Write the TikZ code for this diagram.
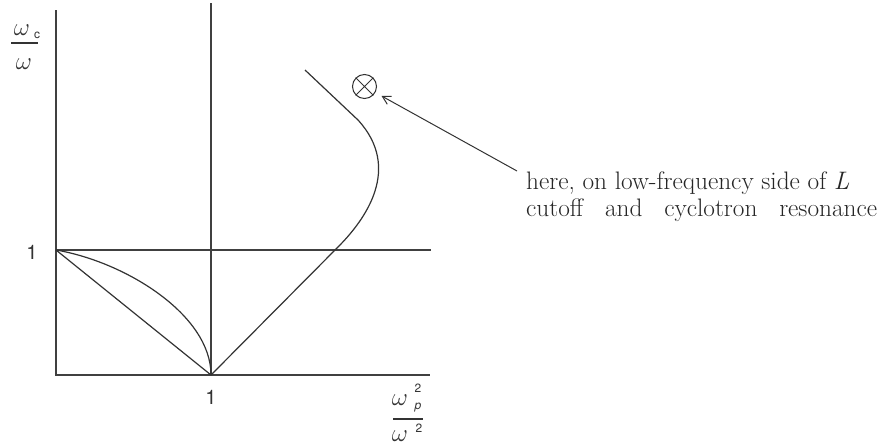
\documentclass[tikz,border=0pt]{standalone}
\usepackage{fontspec}
\newfontfamily\helv{TeX Gyre Heros}
\usetikzlibrary{arrows.meta}
\begin{document}
\begin{tikzpicture}[x=1pt,y=-1pt,
  ax/.style={line width=1.4pt, draw=black!75},
  cur/.style={line width=1.2pt, draw=black!80},
  lbl/.style={font=\helv\fontsize{20}{20}\selectfont, inner sep=0, text=black!80},
  sml/.style={font=\helv\fontsize{12}{12}\selectfont, inner sep=0, text=black!80},
  om/.style={font=\fontsize{26}{26}\selectfont, inner sep=0, text=black!80},
  fbar/.style={line width=1.2pt, draw=black!80},
  note/.style={font=\fontsize{25.3}{28}\selectfont, inner sep=0, anchor=base west, text=black!85}]
\useasboundingbox (0,0) rectangle (883,447);
% axes and reference lines
\coordinate (O) at (56,375);
\coordinate (A) at (56,250);
\coordinate (B) at (211,375);
\coordinate (ytop) at (56,10);
\coordinate (xend) at (430,375);
\coordinate (vtop) at (211,3);
\coordinate (hend) at (431,250);
\draw[ax] (ytop) -- (O) -- (xend);
\draw[ax] (vtop) -- (B);
\draw[ax] (A) -- (hend);
% curves
\draw[cur] (A) -- (B);
\draw[cur] (A) .. controls (126,262) and (211,315) .. (B);
\coordinate (c1) at (338,247);
\coordinate (c2) at (358,120);
\coordinate (c3) at (305,70);
\draw[cur] (B) -- (c1) .. controls (366,219) and (402,168) .. (c2) -- (c3);
% tick labels
\node[lbl] (oney) at (32,252) {1};
\node[lbl] (onex) at (211,397) {1};
% y-axis label
\node[om] (wc) at (22,30) {$\omega$};
\node[sml] (c) at (37,35) {c};
\coordinate (yb1) at (11,43);
\coordinate (yb2) at (38,43);
\draw[fbar] (yb1) -- (yb2);
\node[om] (wy) at (24,64) {$\omega$};
% x-axis label
\node[om] (wp) at (400,400) {$\omega$};
\node[sml] (sq1) at (418,388) {2};
\node[sml] (p) at (418,408) {\itshape p};
\coordinate (xb1) at (393,419);
\coordinate (xb2) at (423,419);
\draw[fbar] (xb1) -- (xb2);
\node[om] (ww) at (400,436) {$\omega$};
\node[sml] (sq2) at (419,428) {2};
% circled cross and arrow
\node[draw=black!80, circle, minimum size=24pt, inner sep=0, line width=1pt] (X) at (364.5,86.5) {};
\draw[black!80, line width=1pt] (X.45) -- (X.225) (X.135) -- (X.315);
\coordinate (T) at (517,171);
\draw[cur, line width=1pt, -{Straight Barb[length=8pt,width=9pt]}, shorten >=7pt] (T) -- (X);
% note
\node[note] (n1) at (526,189) {here, on low-frequency side of \textit{L}};
\node[note] (n2) at (526,216) {\makebox[351pt][s]{cutoff and cyclotron resonance}};
\end{tikzpicture}
\end{document}
